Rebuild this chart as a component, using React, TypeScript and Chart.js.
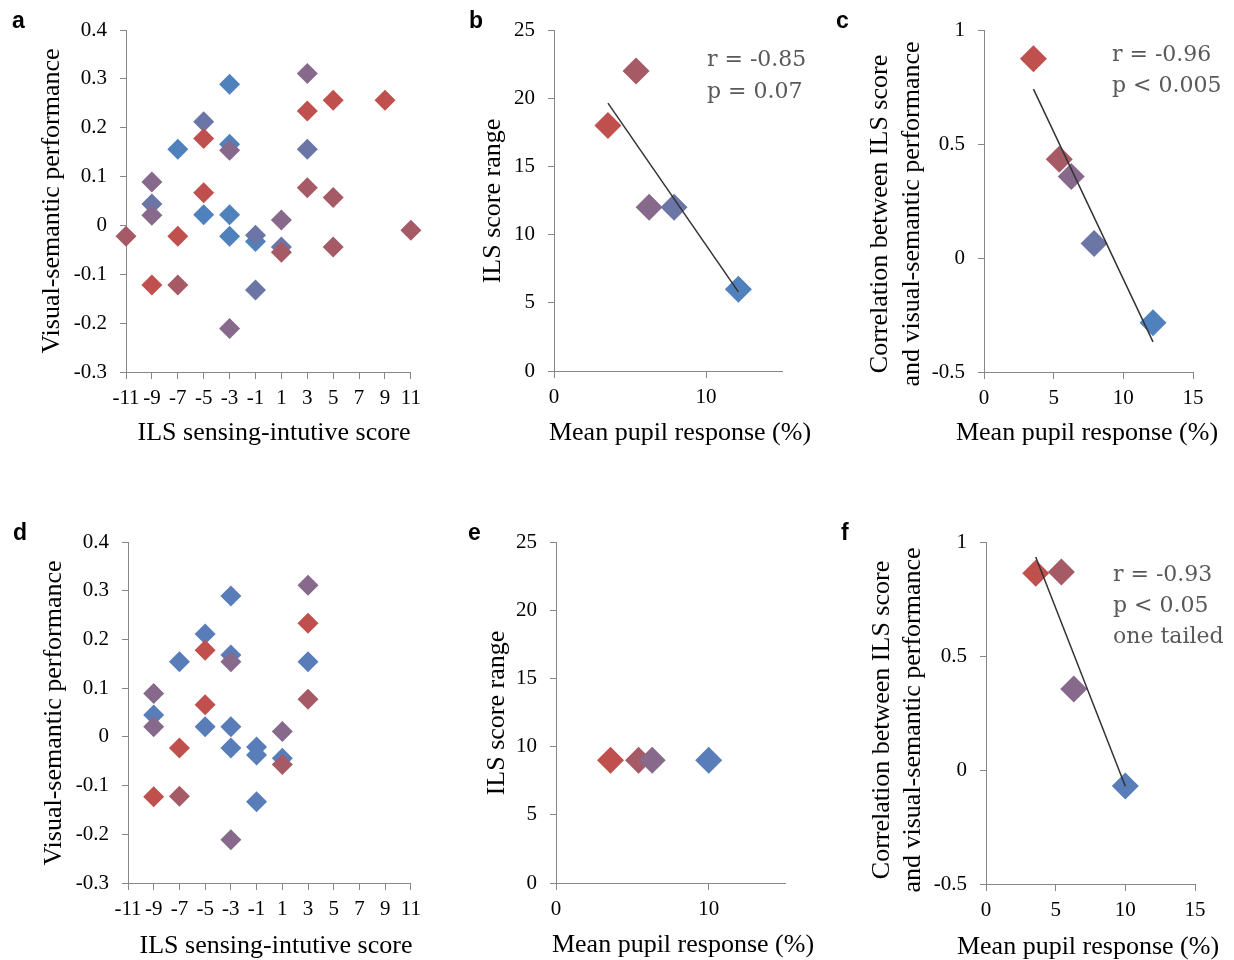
import React, { useEffect, useRef } from "react";
import { Chart, registerables } from "chart.js";

Chart.register(...registerables);

// ---------- tick values and labels ----------
const ilsTickValues = [-11, -9, -7, -5, -3, -1, 1, 3, 5, 7, 9, 11];
const ilsTickLabels = ["-11", "-9", "-7", "-5", "-3", "-1", "1", "3", "5", "7", "9", "11"];
const perfTickValues = [-0.3, -0.2, -0.1, 0, 0.1, 0.2, 0.3, 0.4];
const perfTickLabels = ["-0.3", "-0.2", "-0.1", "0", "0.1", "0.2", "0.3", "0.4"];
const pupilTickValuesB = [0, 10];
const pupilTickLabelsB = ["0", "10"];
const pupilTickValuesC = [0, 5, 10, 15];
const pupilTickLabelsC = ["0", "5", "10", "15"];
const rangeTickValues = [0, 5, 10, 15, 20, 25];
const rangeTickLabels = ["0", "5", "10", "15", "20", "25"];
const corrTickValues = [-0.5, 0, 0.5, 1];
const corrTickLabels = ["-0.5", "0", "0.5", "1"];

// ---------- colours ----------
const BLUE = "#4F81BD";
const SLATE = "#6B76A6";
const PURPLE = "#87698B";
const MAROON = "#A55A66";
const RED = "#C0504D";
const BLUE_D = "#587DB9";
const AXIS = "#878787";
const TREND = "#333333";
const STAT = "#595959";

// ---------- panel a : ILS score vs visual-semantic performance ----------
const aBlueScore = [-7, -5, -3, -3, -3, -3, -1];
const aBluePerf = [0.156, 0.022, 0.289, 0.166, 0.022, -0.022, -0.033];
const aSlateScore = [-9, -5, -1, -1, 1, 3];
const aSlatePerf = [0.044, 0.212, -0.02, -0.132, -0.044, 0.156];
const aPurpleScore = [-9, -9, -3, -3, 1, 3];
const aPurplePerf = [0.089, 0.021, 0.154, -0.211, 0.011, 0.311];
const aMaroonScore = [-11, -7, 1, 3, 5, 5, 11];
const aMaroonPerf = [-0.022, -0.122, -0.055, 0.077, 0.057, -0.044, -0.01];
const aRedScore = [-9, -7, -5, -5, 3, 5, 9];
const aRedPerf = [-0.122, -0.022, 0.178, 0.067, 0.234, 0.256, 0.256];

// ---------- panels b, c ----------
const groupColorsAll = [RED, MAROON, PURPLE, SLATE, BLUE];
const pupilAll = [3.55, 5.4, 6.26, 7.9, 12.13];
const ilsRangeAll = [18, 22, 12, 12, 6];
const corrAll = [0.874, 0.433, 0.357, 0.064, -0.284];
const statsB = ["r = -0.85", "p = 0.07"];
const statsC = ["r = -0.96", "p < 0.005"];

// ---------- panel d ----------
const dBlueScore = [-9, -7, -5, -5, -3, -3, -3, -3, -1, -1, -1, 1, 3];
const dBluePerf = [0.045, 0.154, 0.211, 0.021, 0.289, 0.168, 0.021, -0.023, -0.021, -0.037, -0.133, -0.044, 0.154];
const dPurpleScore = [-9, -9, -3, -3, 1, 3];
const dPurplePerf = [0.089, 0.021, 0.154, -0.211, 0.011, 0.311];
const dMaroonScore = [-7, 1, 3];
const dMaroonPerf = [-0.122, -0.057, 0.077];
const dRedScore = [-9, -7, -5, -5, 3];
const dRedPerf = [-0.123, -0.023, 0.178, 0.066, 0.233];

// ---------- panels e, f ----------
const groupColorsSub = [RED, MAROON, PURPLE, BLUE_D];
const pupilSub = [3.57, 5.41, 6.3, 10.0];
const ilsRangeSub = [9, 9, 9, 9];
const corrSub = [0.863, 0.868, 0.355, -0.07];
const statsF = ["r = -0.93", "p < 0.05", "one tailed"];

// ---------- text styles ----------
const SERIF = "'Liberation Serif', 'Times New Roman', serif";
const TITLE_FONT = `26px ${SERIF}`;
const STAT_FONT = "22px 'DejaVu Serif', serif";
const LETTER_FONT = "bold 23px 'Liberation Sans', Arial, sans-serif";

const pts = (xs: number[], ys: number[]) => xs.map((x, i) => ({ x, y: ys[i] }));

function group(xs: number[], ys: number[], color: string, order: number) {
  return {
    data: pts(xs, ys),
    pointStyle: "rectRot",
    pointRadius: 10.5,
    pointHoverRadius: 10.5,
    backgroundColor: color,
    borderWidth: 0,
    clip: false,
    order,
  };
}

function colored(xs: number[], ys: number[], colors: string[]) {
  return {
    data: pts(xs, ys),
    pointStyle: "rectRot",
    pointRadius: 13.5,
    pointHoverRadius: 13.5,
    backgroundColor: colors,
    borderWidth: 0,
    clip: false,
    order: 1,
  };
}

// least-squares trend line across the data range (as the spreadsheet trendline)
function trend(xs: number[], ys: number[]) {
  const n = xs.length;
  const mx = xs.reduce((a, b) => a + b, 0) / n;
  const my = ys.reduce((a, b) => a + b, 0) / n;
  let sxy = 0;
  let sxx = 0;
  xs.forEach((x, i) => {
    sxy += (x - mx) * (ys[i] - my);
    sxx += (x - mx) * (x - mx);
  });
  const slope = sxy / sxx;
  const x0 = Math.min(...xs);
  const x1 = Math.max(...xs);
  return {
    data: [
      { x: x0, y: my + slope * (x0 - mx) },
      { x: x1, y: my + slope * (x1 - mx) },
    ],
    showLine: true,
    pointRadius: 0,
    pointHoverRadius: 0,
    borderColor: TREND,
    borderWidth: 1.5,
    fill: false,
    clip: false,
    order: 0,
  };
}

type TextItem = {
  text: string;
  x: number;
  y: number;
  font: string;
  color?: string;
  align?: CanvasTextAlign;
  baseline?: CanvasTextBaseline;
  rotate?: boolean;
};

const letter = (text: string, x: number, y: number): TextItem => ({ text, x, y, font: LETTER_FONT, align: "left", baseline: "alphabetic" });
const title = (text: string, x: number, y: number, rotate = false): TextItem => ({ text, x, y, font: TITLE_FONT, rotate });
const stat = (text: string, x: number, y: number): TextItem => ({ text, x, y, font: STAT_FONT, color: STAT, align: "left" });

const panels = [
  {
    key: "a",
    box: { left: 0, top: 0, width: 428, height: 460 },
    area: { left: 126, top: 30, right: 411, bottom: 372 },
    x: { min: -11, max: 11, values: ilsTickValues, labels: ilsTickLabels },
    y: { min: -0.3, max: 0.4, values: perfTickValues, labels: perfTickLabels },
    datasets: [
      group(aRedScore, aRedPerf, RED, 1),
      group(aMaroonScore, aMaroonPerf, MAROON, 2),
      group(aPurpleScore, aPurplePerf, PURPLE, 3),
      group(aSlateScore, aSlatePerf, SLATE, 4),
      group(aBlueScore, aBluePerf, BLUE, 5),
    ],
    texts: [
      letter("a", 12, 28),
      title("Visual-semantic performance", 52, 201, true),
      title("ILS sensing-intutive score", 274, 433),
    ],
  },
  {
    key: "b",
    box: { left: 430, top: 0, width: 400, height: 460 },
    area: { left: 554, top: 30, right: 782, bottom: 371 },
    x: { min: 0, max: 15, values: pupilTickValuesB, labels: pupilTickLabelsB },
    y: { min: 0, max: 25, values: rangeTickValues, labels: rangeTickLabels },
    datasets: [trend(pupilAll, ilsRangeAll), colored(pupilAll, ilsRangeAll, groupColorsAll)],
    texts: [
      letter("b", 469, 28),
      title("ILS score range", 493, 201, true),
      title("Mean pupil response (%)", 680, 433),
      stat(statsB[0], 707, 60),
      stat(statsB[1], 707, 92),
    ],
  },
  {
    key: "c",
    box: { left: 830, top: 0, width: 404, height: 460 },
    area: { left: 984, top: 30, right: 1193, bottom: 372 },
    x: { min: 0, max: 15, values: pupilTickValuesC, labels: pupilTickLabelsC },
    y: { min: -0.5, max: 1, values: corrTickValues, labels: corrTickLabels },
    datasets: [trend(pupilAll, corrAll), colored(pupilAll, corrAll, groupColorsAll)],
    texts: [
      letter("c", 836, 28),
      title("Correlation between ILS score", 880, 214, true),
      title("and visual-semantic performance", 912, 214, true),
      title("Mean pupil response (%)", 1087, 433),
      stat(statsC[0], 1112, 55),
      stat(statsC[1], 1112, 86),
    ],
  },
  {
    key: "d",
    box: { left: 0, top: 500, width: 428, height: 460 },
    area: { left: 128, top: 542, right: 413, bottom: 883 },
    x: { min: -11, max: 11, values: ilsTickValues, labels: ilsTickLabels },
    y: { min: -0.3, max: 0.4, values: perfTickValues, labels: perfTickLabels },
    datasets: [
      group(dRedScore, dRedPerf, RED, 1),
      group(dMaroonScore, dMaroonPerf, MAROON, 2),
      group(dPurpleScore, dPurplePerf, PURPLE, 3),
      group(dBlueScore, dBluePerf, BLUE_D, 5),
    ],
    texts: [
      letter("d", 13, 540),
      title("Visual-semantic performance", 54, 713, true),
      title("ILS sensing-intutive score", 276, 946),
    ],
  },
  {
    key: "e",
    box: { left: 430, top: 500, width: 400, height: 460 },
    area: { left: 556, top: 542, right: 785, bottom: 883 },
    x: { min: 0, max: 15, values: pupilTickValuesB, labels: pupilTickLabelsB },
    y: { min: 0, max: 25, values: rangeTickValues, labels: rangeTickLabels },
    datasets: [colored(pupilSub, ilsRangeSub, groupColorsSub)],
    texts: [
      letter("e", 468, 540),
      title("ILS score range", 497, 713, true),
      title("Mean pupil response (%)", 683, 945),
    ],
  },
  {
    key: "f",
    box: { left: 830, top: 500, width: 404, height: 460 },
    area: { left: 986, top: 542, right: 1195, bottom: 884 },
    x: { min: 0, max: 15, values: pupilTickValuesC, labels: pupilTickLabelsC },
    y: { min: -0.5, max: 1, values: corrTickValues, labels: corrTickLabels },
    datasets: [trend(pupilSub, corrSub), colored(pupilSub, corrSub, groupColorsSub)],
    texts: [
      letter("f", 841, 540),
      title("Correlation between ILS score", 882, 720, true),
      title("and visual-semantic performance", 913, 720, true),
      title("Mean pupil response (%)", 1088, 947),
      stat(statsF[0], 1113, 575),
      stat(statsF[1], 1113, 606),
      stat(statsF[2], 1113, 637),
    ],
  },
];

function Panel({ spec }: { spec: any }) {
  const ref = useRef<HTMLCanvasElement>(null);
  useEffect(() => {
    const { box, area } = spec;
    const textPlugin = {
      id: "panelText" + spec.key,
      afterDraw(chart: any) {
        const ctx = chart.ctx as CanvasRenderingContext2D;
        for (const t of spec.texts as TextItem[]) {
          ctx.save();
          ctx.font = t.font;
          ctx.fillStyle = t.color || "#000";
          ctx.textAlign = t.align || "center";
          ctx.textBaseline = t.baseline || "middle";
          ctx.translate(t.x - box.left, t.y - box.top);
          if (t.rotate) ctx.rotate(-Math.PI / 2);
          ctx.fillText(t.text, 0, 0);
          ctx.restore();
        }
      },
    };
    const axis = (ax: any, isY: boolean) => ({
      type: "linear",
      min: ax.min,
      max: ax.max,
      afterBuildTicks: (scale: any) => {
        scale.ticks = ax.values.map((v: number) => ({ value: v }));
      },
      afterFit: (scale: any) => {
        if (isY) scale.width = area.left - box.left;
        else scale.height = box.top + box.height - area.bottom;
      },
      ticks: {
        autoSkip: false,
        maxRotation: 0,
        minRotation: 0,
        padding: isY ? 13 : 7,
        color: "#000",
        font: { family: SERIF, size: 21 },
        callback: (_v: any, i: number) => ax.labels[i],
      },
      grid: {
        display: true,
        drawOnChartArea: false,
        drawTicks: true,
        tickLength: isY ? 6 : 7,
        color: AXIS,
        lineWidth: 1,
      },
      border: { display: true, color: AXIS, width: 1 },
      title: { display: false },
    });
    const chart = new Chart(ref.current as HTMLCanvasElement, {
      type: "scatter",
      data: { datasets: spec.datasets },
      options: {
        animation: false,
        responsive: false,
        devicePixelRatio: 1,
        layout: {
          padding: {
            left: 0,
            top: area.top - box.top,
            right: box.left + box.width - area.right,
            bottom: 0,
          },
        },
        plugins: { legend: { display: false }, tooltip: { enabled: false } },
        scales: { x: axis(spec.x, false), y: axis(spec.y, true) },
      } as any,
      plugins: [textPlugin],
    });
    return () => chart.destroy();
  }, [spec]);
  return (
    <canvas
      ref={ref}
      width={spec.box.width}
      height={spec.box.height}
      style={{
        position: "absolute",
        left: spec.box.left,
        top: spec.box.top,
        width: spec.box.width,
        height: spec.box.height,
      }}
    />
  );
}

export default function App() {
  return (
    <div style={{ position: "absolute", left: 0, top: 0, width: 1234, height: 960, background: "#fff" }}>
      {panels.map((p) => (
        <Panel key={p.key} spec={p} />
      ))}
    </div>
  );
}
